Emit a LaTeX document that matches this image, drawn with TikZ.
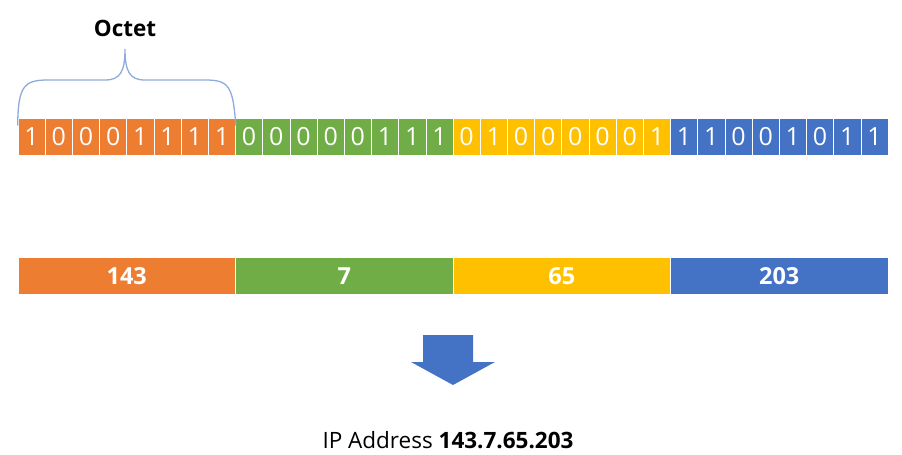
\documentclass[tikz,border=0pt]{standalone}
\usepackage{fontspec}
\setmainfont{Open Sans}
\usepackage{tikz}
\usetikzlibrary{positioning}
\definecolor{octA}{HTML}{ED7D31}
\definecolor{octB}{HTML}{70AD47}
\definecolor{octC}{HTML}{FFC000}
\definecolor{octD}{HTML}{4472C4}
\definecolor{braceblue}{HTML}{8FAADC}

\begin{document}
\begin{tikzpicture}[
    x=1pt, y=-1pt,
    bitbox/.style={
        rectangle,
        draw=white,
        line width=0.6pt,
        minimum width=27.19pt,
        minimum height=37pt,
        inner sep=0pt,
        text=white,
        font=\fontsize{25}{28}\selectfont
    },
    bytebox/.style={
        rectangle,
        draw=white,
        line width=0.6pt,
        minimum width=217.5pt,
        minimum height=37pt,
        inner sep=0pt,
        text=white,
        font=\fontsize{23.5}{26}\selectfont\bfseries
    }
]
    \useasboundingbox (0,0) rectangle (902,455);

    % Bits of the four octets
    \foreach \oct/\bits/\col in {
        0/{1,0,0,0,1,1,1,1}/octA,
        1/{0,0,0,0,0,1,1,1}/octB,
        2/{0,1,0,0,0,0,0,1}/octC,
        3/{1,1,0,0,1,0,1,1}/octD%
    } {
        \foreach \b [count=\i from 0] in \bits {
            \node[bitbox, fill=\col] (b\oct-\i)
                at ({18+\oct*217.5+(\i+0.5)*27.1875}, 136.5) {\b};
        }
    }

    % Decimal value of each octet
    \foreach \oct/\val/\col in {
        0/143/octA,
        1/7/octB,
        2/65/octC,
        3/203/octD%
    } {
        \node[bytebox, fill=\col] (o\oct)
            at ({18+(\oct+0.5)*217.5}, 276) {\val};
    }

    % Brace over the first octet
    \coordinate (brl) at ([yshift=-8pt]b0-0.north west);
    \coordinate (brr) at ([yshift=-8pt]b0-7.north east);
    \node[font=\fontsize{22.5}{26}\selectfont\bfseries] (octet) at (125,28) {Octet};
    \draw[braceblue, line width=1.3pt]
        (brl) .. controls (18,86) and (24,80) .. (48,80)
        -- (105,80) .. controls (120,80) and (125,72) .. (125,49)
        .. controls (125,72) and (130,80) .. (145,80)
        -- (205,80) .. controls (229,80) and (233,86) .. (brr);

    % Down arrow
    \fill[octD] (423,335) -- (473,335) -- (473,362) -- (495,362)
        -- (453,385) -- (411,362) -- (423,362) -- cycle;

    % Result
    \node[font=\fontsize{22.5}{26}\selectfont] (ip) at (448,440)
        {IP Address \textbf{143.7.65.203}};
\end{tikzpicture}
\end{document}
